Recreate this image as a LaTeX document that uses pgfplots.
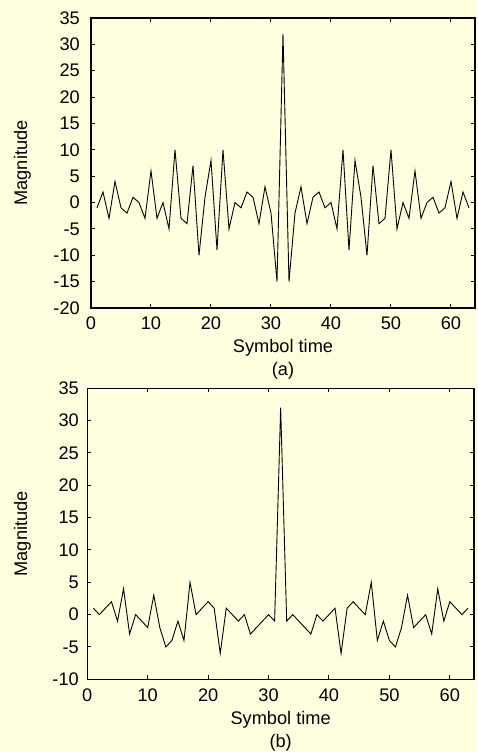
\documentclass[border=0pt]{standalone}
\usepackage{fontspec}
\setmainfont{Liberation Sans}
\usepackage{pgfplots}
\pgfplotsset{compat=1.18}
\usepackage{pgfplotstable}
\definecolor{bgyellow}{RGB}{255,255,224}

\pgfplotstableread{
x y
1 -1
2 2
3 -3
4 4
5 -1
6 -2
7 1
8 0
9 -3
10 6
11 -3
12 0
13 -5
14 10
15 -3
16 -4
17 7
18 -10
19 1
20 8
21 -9
22 10
23 -5
24 0
25 -1
26 2
27 1
28 -4
29 3
30 -2
31 -15
32 32
33 -15
34 -2
35 3
36 -4
37 1
38 2
39 -1
40 0
41 -5
42 10
43 -9
44 8
45 1
46 -10
47 7
48 -4
49 -3
50 10
51 -5
52 0
53 -3
54 6
55 -3
56 0
57 1
58 -2
59 -1
60 4
61 -3
62 2
63 -1
}\dataA

\pgfplotstableread{
x y
1 1
2 0
3 1
4 2
5 -1
6 4
7 -3
8 0
9 -1
10 -2
11 3
12 -2
13 -5
14 -4
15 -1
16 -4
17 5
18 0
19 1
20 2
21 1
22 -6
23 1
24 0
25 -1
26 0
27 -3
28 -2
29 -1
30 0
31 -1
32 32
33 -1
34 0
35 -1
36 -2
37 -3
38 0
39 -1
40 0
41 1
42 -6
43 1
44 2
45 1
46 0
47 5
48 -4
49 -1
50 -4
51 -5
52 -2
53 3
54 -2
55 -1
56 0
57 -3
58 4
59 -1
60 2
61 1
62 0
63 1
}\dataB

\pgfplotsset{
  mystyle/.style={
    scale only axis,
    clip=false,
    axis line style={line width=1.4pt},
    every tick/.style={line width=1pt, black},
    major tick length=4pt,
    tick align=inside,
    xmin=0, xmax=64,
    xtick={0,10,20,30,40,50,60},
    xticklabels={0,10,20,30,40,50,60},
    xticklabel style={anchor=base, inner sep=0pt, yshift=-22pt},
    xlabel={Symbol time},
    xlabel style={at={(axis description cs:0.5,0)}, anchor=base, inner sep=0pt, yshift=-45pt},
    ylabel={Magnitude},
  },
}

\begin{document}
\begin{tikzpicture}[font=\fontsize{18.2}{21}\selectfont]
\fill[bgyellow] (0,0) rectangle (477pt,752pt);

\begin{axis}[mystyle,
  at={(91pt,444pt)}, anchor=south west,
  width=384pt, height=290pt,
  ymin=-20, ymax=35,
  ytick={-20,-15,-10,-5,0,5,10,15,20,25,30,35},
  yticklabels={-20,-15,-10,-5,0,5,10,15,20,25,30,35},
  yticklabel style={anchor=east, inner sep=0pt, xshift=-11pt},
  ylabel style={at={(axis description cs:-0.1784,0.5)}, anchor=center},
]
\addplot[black, line width=0.9pt, no markers] table[x=x,y=y] {\dataA};
\node[anchor=base, inner sep=0pt, yshift=-68pt] at (axis description cs:0.5,0) {(a)};
\end{axis}

\begin{axis}[mystyle,
  at={(87.3pt,72.7pt)}, anchor=south west,
  width=386.7pt, height=291pt,
  ymin=-10, ymax=35,
  ytick={-10,-5,0,5,10,15,20,25,30,35},
  yticklabels={-10,-5,0,5,10,15,20,25,30,35},
  yticklabel style={anchor=east, inner sep=0pt, xshift=-8.3pt},
  ylabel style={at={(axis description cs:-0.1676,0.5)}, anchor=center},
]
\addplot[black, line width=0.9pt, no markers] table[x=x,y=y] {\dataB};
\node[anchor=base, inner sep=0pt, yshift=-68pt] at (axis description cs:0.5,0) {(b)};
\end{axis}

\pgfresetboundingbox
\useasboundingbox (0,0) rectangle (477pt,752pt);
\end{tikzpicture}
\end{document}
